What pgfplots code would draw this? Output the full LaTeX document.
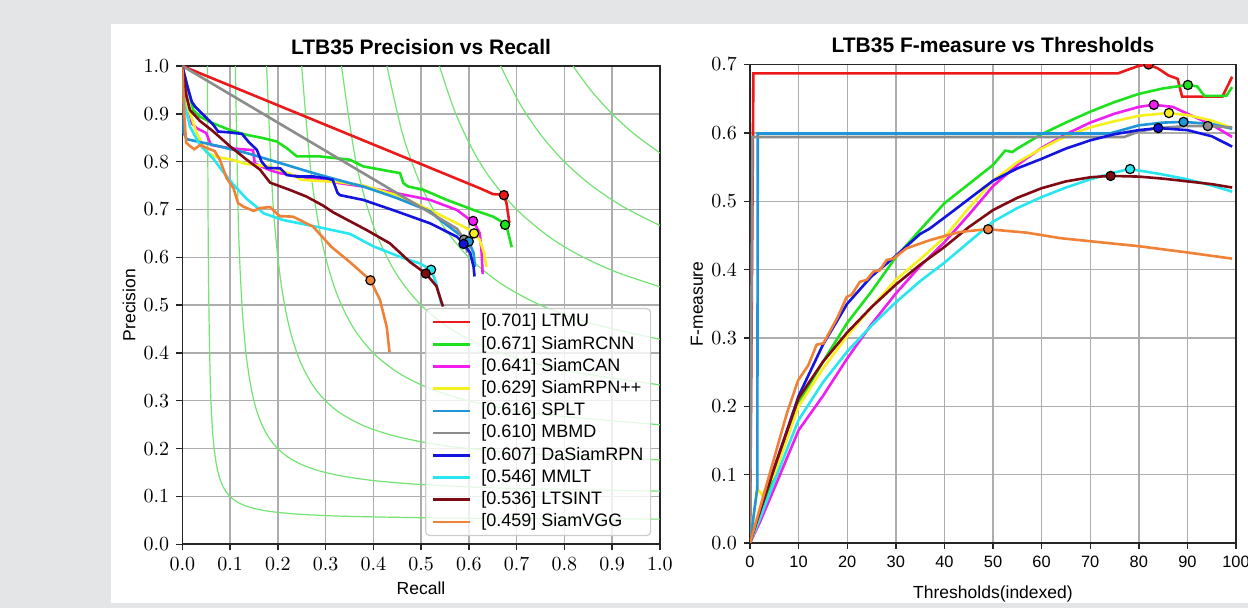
\documentclass[border=0pt]{standalone}
\usepackage{fontspec}
\setmainfont{Liberation Sans}
\usepackage{pgfplots}
\pgfplotsset{compat=1.18}
\definecolor{cLTMU}{RGB}{235,25,25}
\definecolor{cRCNN}{RGB}{30,225,30}
\definecolor{cCAN}{RGB}{240,30,240}
\definecolor{cRPN}{RGB}{245,240,30}
\definecolor{cSPLT}{RGB}{30,150,215}
\definecolor{cMBMD}{RGB}{140,140,140}
\definecolor{cDaS}{RGB}{20,20,225}
\definecolor{cMMLT}{RGB}{40,230,240}
\definecolor{cLTSINT}{RGB}{128,10,20}
\definecolor{cVGG}{RGB}{240,130,55}
\definecolor{isoF}{RGB}{115,228,115}
\definecolor{bgGray}{RGB}{227,229,231}
\pgfplotsset{
  myaxis/.style={
    scale only axis,
    axis line style={line width=0.8pt, black!85},
    grid=major,
    major grid style={line width=0.7pt, black!32},
    tick align=outside,
    tick pos=left,
    major tick length=3pt,
    tick style={line width=0.7pt, black!85},
    tick label style={font=\fontsize{10}{12}\selectfont},
    title style={font=\fontsize{10.5}{12}\selectfont\bfseries, at={(axis description cs:0.5,1)}, anchor=base},
    label style={font=\fontsize{8.75}{10}\selectfont},
  },
  curve/.style={line width=1.3pt, #1},
  mk/.style={only marks, mark=*, mark size=2.3pt, mark options={draw=black, line width=0.6pt, fill=#1}, forget plot},
  iso/.style={isoF, line width=0.6pt, smooth, forget plot},
}
\begin{document}
\begin{tikzpicture}
\useasboundingbox (0pt,0pt) rectangle (624pt,304pt);
\fill[bgGray] (0pt,0pt) rectangle (624pt,304pt);
\fill[white] (55.5pt,2.5pt) rectangle (624pt,292pt);

% ---------------- Left: Precision vs Recall ----------------
\begin{axis}[myaxis,
  at={(91.15pt,31.85pt)}, anchor=south west,
  width=238.75pt, height=239.15pt,
  xmin=0, xmax=1, ymin=0, ymax=1,
  xtick={0,0.1,0.2,0.3,0.4,0.5,0.6,0.7,0.8,0.9,1},
  ytick={0,0.1,0.2,0.3,0.4,0.5,0.6,0.7,0.8,0.9,1},
  xticklabel style={/pgf/number format/fixed,/pgf/number format/fixed zerofill,/pgf/number format/precision=1},
  yticklabel style={/pgf/number format/fixed,/pgf/number format/fixed zerofill,/pgf/number format/precision=1},
  title={LTB35 Precision vs Recall},
  title style={yshift=-0.25pt},
  xlabel={Recall},
  xlabel style={at={(axis description cs:0.5,0)}, anchor=base, yshift=-25.3pt},
  ylabel={Precision},
  ylabel style={at={(axis description cs:-0.1116,0.5)}, anchor=center},
  legend cell align=left,
  legend style={at={(axis description cs:0.982,0.017)}, anchor=south east,
    draw=black!20, line width=0.6pt, rounded corners=2pt, fill=white, fill opacity=0.8, text opacity=1,
    font=\fontsize{9}{10}\selectfont, inner xsep=3pt, inner ysep=2pt, row sep=1.5pt,
    nodes={inner sep=0.6pt, text height=6.6pt, text depth=1.8pt},
    /tikz/every odd column/.append style={column sep=4.4pt}},
  legend image code/.code={\draw[#1] (0pt,0pt) -- (18.5pt,0pt);},
]
% iso F-measure lines
\addplot[iso] coordinates {(0.0526,1)(0.0541,0.6667)(0.0556,0.5)(0.0588,0.3333)(0.0625,0.25)(0.0667,0.2)(0.0714,0.1667)(0.0769,0.1429)(0.0833,0.125)(0.0909,0.1111)(0.1,0.1)(0.1111,0.0909)(0.125,0.0833)(0.1429,0.0769)(0.1667,0.0714)(0.2,0.0667)(0.25,0.0625)(0.3333,0.0588)(0.5,0.0556)(0.6667,0.0541)(1,0.0526)};
\addplot[iso] coordinates {(0.1111,1)(0.1176,0.6667)(0.125,0.5)(0.1333,0.4)(0.1429,0.3333)(0.1538,0.2857)(0.1667,0.25)(0.1818,0.2222)(0.2,0.2)(0.2222,0.1818)(0.25,0.1667)(0.2857,0.1538)(0.3333,0.1429)(0.4,0.1333)(0.5,0.125)(0.6667,0.1176)(1,0.1111)};
\addplot[iso] coordinates {(0.1765,1)(0.1899,0.7143)(0.2055,0.5556)(0.2239,0.4545)(0.2459,0.3846)(0.2727,0.3333)(0.3,0.3)(0.3333,0.2727)(0.3846,0.2459)(0.4545,0.2239)(0.5556,0.2055)(0.7143,0.1899)(1,0.1765)};
\addplot[iso] coordinates {(0.25,1)(0.2703,0.7692)(0.2941,0.625)(0.3226,0.5263)(0.3571,0.4545)(0.4,0.4)(0.4545,0.3571)(0.5263,0.3226)(0.625,0.2941)(0.7692,0.2703)(1,0.25)};
\addplot[iso] coordinates {(0.3333,1)(0.3636,0.8)(0.4,0.6667)(0.4444,0.5714)(0.5,0.5)(0.5714,0.4444)(0.6667,0.4)(0.8,0.3636)(1,0.3333)};
\addplot[iso] coordinates {(0.4286,1)(0.4615,0.8571)(0.5,0.75)(0.5455,0.6667)(0.6,0.6)(0.6667,0.5455)(0.75,0.5)(0.8571,0.4615)(1,0.4286)};
\addplot[iso] coordinates {(0.5385,1)(0.5691,0.9091)(0.6035,0.8333)(0.6422,0.7692)(0.7,0.7)(0.7692,0.6422)(0.8333,0.6035)(0.9091,0.5691)(1,0.5385)};
\addplot[iso] coordinates {(0.6667,1)(0.7059,0.9231)(0.75,0.8571)(0.8,0.8)(0.8571,0.75)(0.9231,0.7059)(1,0.6667)};
\addplot[iso] coordinates {(0.8182,1)(0.8571,0.9474)(0.9,0.9)(0.9474,0.8571)(1,0.8182)};

\addplot[curve=cLTMU] coordinates {(0,1)(0.624,0.744)(0.651,0.732)(0.6735,0.731)(0.679,0.713)(0.685,0.672)};
\addlegendentry{[0.701] LTMU}
\addplot[curve=cRCNN] coordinates {(0,1)(0.023,0.908)(0.037,0.894)(0.065,0.88)(0.1,0.866)(0.135,0.856)(0.17,0.849)(0.198,0.842)(0.219,0.828)(0.24,0.811)(0.288,0.811)(0.351,0.804)(0.379,0.79)(0.456,0.776)(0.463,0.755)(0.473,0.748)(0.505,0.741)(0.554,0.72)(0.61,0.699)(0.651,0.685)(0.676,0.670)(0.681,0.657)(0.690,0.621)};
\addlegendentry{[0.671] SiamRCNN}
\addplot[curve=cCAN] coordinates {(0,1)(0.01,0.93)(0.02,0.88)(0.03,0.87)(0.05,0.86)(0.06,0.835)(0.1,0.828)(0.148,0.824)(0.152,0.796)(0.184,0.782)(0.204,0.776)(0.24,0.77)(0.33,0.755)(0.379,0.748)(0.449,0.734)(0.519,0.72)(0.575,0.699)(0.599,0.681)(0.609,0.677)(0.623,0.65)(0.627,0.609)(0.629,0.565)};
\addlegendentry{[0.641] SiamCAN}
\addplot[curve=cRPN] coordinates {(0,1)(0.01,0.92)(0.03,0.86)(0.05,0.82)(0.07,0.81)(0.1,0.805)(0.135,0.795)(0.18,0.79)(0.225,0.775)(0.25,0.762)(0.33,0.757)(0.379,0.75)(0.449,0.73)(0.519,0.699)(0.575,0.671)(0.603,0.657)(0.611,0.650)(0.623,0.636)(0.632,0.609)(0.637,0.58)};
\addlegendentry{[0.629] SiamRPN++}
\addplot[curve=cSPLT] coordinates {(0,1)(0.003,0.86)(0.009,0.847)(0.065,0.835)(0.135,0.818)(0.205,0.797)(0.275,0.776)(0.351,0.755)(0.379,0.748)(0.449,0.724)(0.519,0.696)(0.54,0.678)(0.568,0.657)(0.6,0.633)(0.61,0.609)(0.613,0.58)};
\addlegendentry{[0.616] SPLT}
\addplot[curve=cMBMD] coordinates {(0,1)(0.575,0.66)(0.59,0.638)(0.597,0.61)};
\addlegendentry{[0.610] MBMD}
\addplot[curve=cDaS] coordinates {(0,1)(0.01,0.96)(0.02,0.925)(0.027,0.915)(0.044,0.898)(0.065,0.877)(0.075,0.863)(0.1,0.861)(0.125,0.858)(0.14,0.84)(0.156,0.825)(0.166,0.80)(0.177,0.787)(0.205,0.786)(0.219,0.772)(0.24,0.769)(0.275,0.769)(0.302,0.765)(0.315,0.762)(0.325,0.735)(0.33,0.73)(0.379,0.72)(0.449,0.696)(0.519,0.671)(0.575,0.643)(0.589,0.629)(0.603,0.609)(0.61,0.58)(0.612,0.56)};
\addlegendentry{[0.607] DaSiamRPN}
\addplot[curve=cMMLT] coordinates {(0,1)(0.005,0.92)(0.016,0.873)(0.037,0.835)(0.065,0.806)(0.086,0.778)(0.107,0.752)(0.135,0.722)(0.156,0.705)(0.17,0.692)(0.211,0.678)(0.281,0.664)(0.351,0.649)(0.4,0.623)(0.456,0.601)(0.498,0.587)(0.521,0.574)(0.532,0.545)(0.543,0.5)};
\addlegendentry{[0.546] MMLT}
\addplot[curve=cLTSINT] coordinates {(0,1)(0.008,0.94)(0.016,0.908)(0.037,0.885)(0.065,0.863)(0.1,0.832)(0.135,0.804)(0.163,0.783)(0.184,0.756)(0.225,0.741)(0.26,0.727)(0.295,0.708)(0.316,0.694)(0.386,0.657)(0.435,0.629)(0.477,0.59)(0.51,0.566)(0.532,0.54)(0.546,0.497)};
\addlegendentry{[0.536] LTSINT}
\addplot[curve=cVGG] coordinates {(0,1)(0.004,0.90)(0.008,0.84)(0.013,0.835)(0.025,0.826)(0.038,0.835)(0.05,0.829)(0.068,0.822)(0.079,0.803)(0.093,0.765)(0.107,0.745)(0.117,0.713)(0.128,0.706)(0.149,0.697)(0.163,0.703)(0.184,0.705)(0.204,0.686)(0.232,0.685)(0.274,0.664)(0.312,0.622)(0.351,0.59)(0.394,0.552)(0.414,0.511)(0.428,0.455)(0.434,0.402)};
\addlegendentry{[0.459] SiamVGG}

\addplot[mk=cMBMD] coordinates {(0.59,0.637)};
\addplot[mk=cSPLT] coordinates {(0.600,0.633)};
\addplot[mk=cDaS] coordinates {(0.589,0.628)};
\addplot[mk=cRPN] coordinates {(0.611,0.650)};
\addplot[mk=cCAN] coordinates {(0.609,0.676)};
\addplot[mk=cRCNN] coordinates {(0.676,0.668)};
\addplot[mk=cLTMU] coordinates {(0.6735,0.730)};
\addplot[mk=cMMLT] coordinates {(0.521,0.574)};
\addplot[mk=cLTSINT] coordinates {(0.510,0.566)};
\addplot[mk=cVGG] coordinates {(0.394,0.552)};
\end{axis}

% ---------------- Right: F-measure vs Thresholds ----------------
\begin{axis}[myaxis,
  at={(375pt,32.5pt)}, anchor=south west,
  width=243pt, height=239.25pt,
  xmin=0, xmax=100, ymin=0, ymax=0.7,
  clip marker paths=true,
  xtick={0,10,20,30,40,50,60,70,80,90,100},
  xticklabels={0,10,20,30,40,50,60,70,80,90,100},
  xticklabel style={font=\fontsize{8.2}{10}\selectfont},
  ytick={0,0.1,0.2,0.3,0.4,0.5,0.6,0.7},
  yticklabel style={/pgf/number format/fixed,/pgf/number format/fixed zerofill,/pgf/number format/precision=1},
  title={LTB35 F-measure vs Thresholds},
  title style={yshift=0pt},
  xlabel={Thresholds(indexed)},
  xlabel style={at={(axis description cs:0.5,0)}, anchor=base, yshift=-28pt},
  ylabel={F-measure},
  ylabel style={at={(axis description cs:-0.109,0.5)}, anchor=center},
]
\addplot[curve=cLTMU] coordinates {(0,0)(0.7,0.687)(75.7,0.687)(78,0.693)(80,0.698)(82,0.700)(84,0.694)(86.1,0.684)(88,0.679)(88.9,0.653)(97.2,0.653)(99.2,0.682)};
\addplot[curve=cRCNN] coordinates {(0,0)(2,0.04)(5,0.10)(10,0.205)(15,0.265)(20,0.322)(25,0.368)(30,0.418)(35,0.458)(40,0.497)(45,0.525)(50,0.553)(52.5,0.574)(54,0.572)(55,0.577)(60,0.598)(65,0.615)(70,0.631)(75,0.645)(80,0.657)(85,0.665)(90,0.670)(92,0.668)(93.5,0.654)(98,0.654)(99.2,0.667)};
\addplot[curve=cCAN] coordinates {(0,0)(2,0.03)(5,0.08)(10,0.165)(15,0.215)(20,0.27)(25,0.32)(30,0.365)(35,0.405)(40,0.44)(45,0.48)(50,0.522)(55,0.553)(60,0.578)(65,0.598)(70,0.615)(75,0.628)(80,0.638)(83,0.641)(87,0.638)(90,0.628)(95,0.612)(99.2,0.594)};
\addplot[curve=cRPN] coordinates {(0,0)(1.5,0.08)(2.5,0.07)(5,0.1)(10,0.2)(15,0.255)(20,0.303)(25,0.345)(30,0.385)(35,0.415)(40,0.447)(45,0.49)(50,0.53)(55,0.557)(60,0.577)(65,0.595)(70,0.608)(75,0.617)(80,0.625)(86,0.629)(90,0.626)(95,0.618)(99.2,0.607)};
\addplot[curve=cSPLT] coordinates {(0,0)(1.5,0.08)(1.6,0.599)(74,0.599)(76,0.603)(80,0.611)(85,0.615)(89.2,0.616)(95,0.613)(99.2,0.606)};
\addplot[curve=cMBMD] coordinates {(0,0)(0.5,0.594)(77,0.594)(80,0.602)(84,0.607)(90,0.610)(94.2,0.610)(99.2,0.608)};
\addplot[curve=cDaS] coordinates {(0,0)(2,0.045)(5,0.11)(10,0.215)(15,0.29)(20,0.35)(25,0.39)(30,0.42)(35,0.452)(37,0.46)(40,0.476)(45,0.503)(50,0.53)(55,0.548)(60,0.562)(65,0.577)(70,0.589)(75,0.598)(80,0.604)(84,0.607)(90,0.604)(95,0.595)(99.2,0.58)};
\addplot[curve=cMMLT] coordinates {(0,0)(2,0.035)(5,0.09)(10,0.18)(15,0.235)(20,0.28)(25,0.318)(30,0.352)(35,0.383)(40,0.41)(45,0.44)(50,0.47)(55,0.49)(60,0.506)(65,0.52)(70,0.532)(75,0.542)(78,0.547)(80,0.545)(85,0.539)(90,0.532)(95,0.523)(99.2,0.514)};
\addplot[curve=cLTSINT] coordinates {(0,0)(2,0.045)(5,0.11)(10,0.212)(15,0.265)(20,0.308)(25,0.345)(30,0.378)(35,0.407)(40,0.433)(45,0.462)(50,0.487)(55,0.505)(60,0.519)(65,0.529)(70,0.535)(74,0.537)(80,0.536)(85,0.533)(90,0.529)(95,0.525)(99.2,0.52)};
\addplot[curve=cVGG] coordinates {(0,0)(2,0.05)(5,0.125)(7.6,0.19)(9.9,0.238)(12,0.26)(13.7,0.29)(15.1,0.292)(18,0.33)(19.9,0.36)(20.9,0.363)(22.6,0.382)(24,0.385)(25.4,0.397)(26.7,0.399)(28.1,0.414)(29.5,0.416)(32.2,0.431)(35,0.438)(37,0.443)(40.5,0.45)(43.2,0.455)(47.3,0.458)(49,0.459)(56.9,0.454)(63.8,0.446)(70.6,0.441)(80.2,0.434)(90,0.425)(99.2,0.416)};

\addplot[mk=cLTMU] coordinates {(82,0.700)};
\addplot[mk=cRCNN] coordinates {(90.1,0.670)};
\addplot[mk=cCAN] coordinates {(83.1,0.641)};
\addplot[mk=cRPN] coordinates {(86.2,0.629)};
\addplot[mk=cSPLT] coordinates {(89.2,0.616)};
\addplot[mk=cMBMD] coordinates {(94.2,0.610)};
\addplot[mk=cDaS] coordinates {(84,0.607)};
\addplot[mk=cMMLT] coordinates {(78.2,0.547)};
\addplot[mk=cLTSINT] coordinates {(74.2,0.537)};
\addplot[mk=cVGG] coordinates {(49,0.459)};
\end{axis}
\end{tikzpicture}
\end{document}
